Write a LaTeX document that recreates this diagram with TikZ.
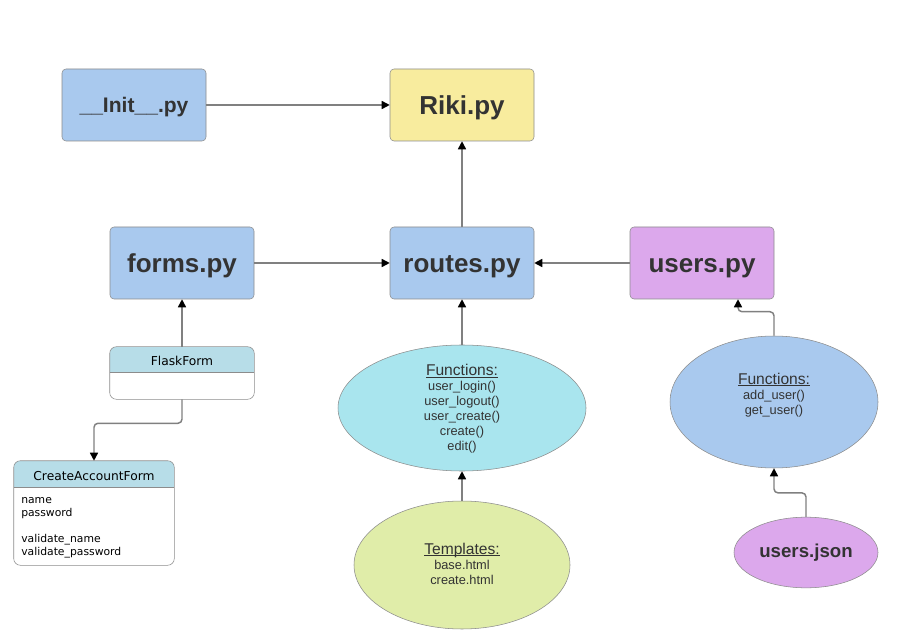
\documentclass[tikz,border=0pt]{standalone}
\usepackage{fontspec}
\setmainfont{Liberation Sans}
\newfontfamily\verd{DejaVu Sans}
\usetikzlibrary{arrows.meta,shapes.geometric}
\definecolor{bluebox}{HTML}{A9C9EE}
\definecolor{yellowbox}{HTML}{F8EC9E}
\definecolor{purplebox}{HTML}{DCA8EC}
\definecolor{cyanell}{HTML}{A9E5EE}
\definecolor{greenell}{HTML}{E0EDA9}
\definecolor{hdr}{HTML}{B7DDE8}
\definecolor{bordergray}{HTML}{8C8C8C}
\definecolor{linegray}{HTML}{808080}
\definecolor{textgray}{HTML}{333333}
\newcommand{\heading}[1]{{\fontsize{11.7}{11.25}\selectfont\setbox0\hbox{#1}\rlap{\rule[-1.3pt]{\wd0}{0.6pt}}\box0}}
\begin{document}
\begin{tikzpicture}[x=0.75pt,y=-0.75pt,
  box/.style={draw=bordergray, rounded corners=3pt, minimum width=108pt, minimum height=54pt, inner sep=0pt, text depth=0pt, text height=14.2pt, text=textgray, font=\bfseries\fontsize{19.5}{22}\selectfont},
  cls/.style={draw=none, minimum width=#1, inner sep=0pt},
  ell/.style={ellipse, draw=bordergray, inner sep=0pt},
  etext/.style={align=center, text=textgray, inner sep=0pt, font=\fontsize{9.6}{11.25}\selectfont},
  conn/.style={draw=linegray, line width=1.1pt, -{Triangle[length=6pt,width=6pt,color=black]}},
  clstext/.style={font=\verd\fontsize{9.2}{11}\selectfont, inner sep=0pt}
]
\useasboundingbox (0,0) rectangle (899,641);
\fill[white] (0,0) rectangle (899,641);

% main boxes
\node[box, fill=bluebox, text height=11.5pt, font=\bfseries\fontsize{15.8}{18}\selectfont] (init) at (134,105) {\_\_Init\_\_.py};
\node[box, fill=yellowbox] (riki) at (462,105) {Riki.py};
\node[box, fill=bluebox] (forms) at (182,263) {forms.py};
\node[box, fill=bluebox] (routes) at (462,263) {routes.py};
\node[box, fill=purplebox] (users) at (702,263) {users.py};

% FlaskForm class
\node[cls=108pt, minimum height=39pt] (flask) at (182,373) {};
\begin{scope}
  \clip[rounded corners=5pt] (flask.south west) rectangle (flask.north east);
  \fill[white] (flask.south west) rectangle (flask.north east);
  \fill[hdr] (flask.north west) rectangle ([yshift=-19.5pt]flask.north east);
\end{scope}
\draw[bordergray] ([yshift=-19.5pt]flask.north west) -- ([yshift=-19.5pt]flask.north east);
\draw[bordergray, rounded corners=5pt] (flask.south west) rectangle (flask.north east);
\node[clstext] (flaskt) at (182,361) {FlaskForm};

% CreateAccountForm class
\node[cls=120pt, minimum height=78pt] (caf) at (94,513) {};
\begin{scope}
  \clip[rounded corners=5pt] (caf.south west) rectangle (caf.north east);
  \fill[white] (caf.south west) rectangle (caf.north east);
  \fill[hdr] (caf.north west) rectangle ([yshift=-20pt]caf.north east);
\end{scope}
\draw[bordergray] ([yshift=-20pt]caf.north west) -- ([yshift=-20pt]caf.north east);
\draw[bordergray, rounded corners=5pt] (caf.south west) rectangle (caf.north east);
\node[clstext] (caft) at (94,476) {CreateAccountForm};
\node[anchor=north west, align=left, inner sep=0pt, font=\verd\fontsize{8.1}{9.75}\selectfont] (cafb) at (21,497.5)
  {name\\password\\[9.75pt]validate\_name\\validate\_password};

% ellipses
\node[ell, fill=cyanell, minimum width=186pt, minimum height=94.5pt] (func) at (462,408) {};
\node[etext] (funct) at (462,409) {\heading{Functions:}\\user\_login()\\user\_logout()\\user\_create()\\create()\\edit()};

\node[ell, fill=greenell, minimum width=162pt, minimum height=96pt] (tmpl) at (462,565) {};
\node[etext] (tmplt) at (462,563.5) {\heading{Templates:}\\base.html\\create.html};

\node[ell, fill=bluebox, minimum width=156pt, minimum height=99pt] (ufunc) at (774,402) {};
\node[etext] (ufunct) at (774,395) {\heading{Functions:}\\add\_user()\\get\_user()};

\node[ell, fill=purplebox, minimum width=108pt, minimum height=53pt, text=textgray, font=\bfseries\fontsize{14}{16}\selectfont] (ujson) at (806,552.5) {users.json};

% connectors
\draw[conn] (init) -- (riki);
\draw[conn] (routes) -- (riki);
\draw[conn] (forms) -- (routes);
\draw[conn] (users) -- (routes);
\draw[conn] (flask) -- (forms);
\draw[conn, rounded corners=3pt] (flask.south) -- ++(0,24) -| (caf.north);
\draw[conn] (func) -- (routes);
\draw[conn] (tmpl) -- (func);
\draw[conn, rounded corners=3pt] (ufunc.north) -- ++(0,-24) -| ([xshift=27pt]users.south);
\draw[conn, rounded corners=3pt] (ujson.north) -- ++(0,-24) -| (ufunc.south);
\end{tikzpicture}
\end{document}
